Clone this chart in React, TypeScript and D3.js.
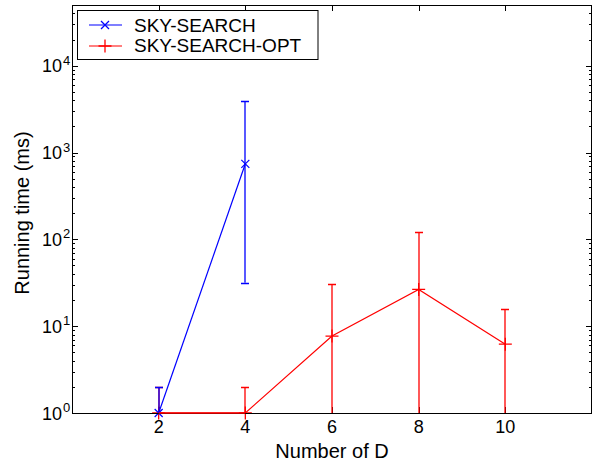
import * as d3 from "d3";
import { useEffect, useRef } from "react";

// x categories (number of dimensions)
const dims = [2, 4, 6, 8, 10];
const xTicks = [2, 4, 6, 8, 10];
const yTicks = [1, 10, 100, 1000, 10000];

// SKY-SEARCH (only two points measured)
const skyDims = [2, 4];
const skyMean = [1, 741];
const skyLow = [0.5, 31.8];
const skyHigh = [2, 3890];

// SKY-SEARCH-OPT
const optMean = [1, 1, 7.7, 26.5, 6.2];
const optLow = [0.5, 0.5, 0.5, 0.5, 0.5];
const optHigh = [2, 2, 31, 123, 15.8];

const seriesNames = ["SKY-SEARCH", "SKY-SEARCH-OPT"];
const seriesColors = ["#0000ff", "#ff0000"];

const W = 594,
  H = 462;
const FONT = "'Liberation Sans', Arial, Helvetica, sans-serif";

const App = () => {
  const svgRef = useRef<SVGSVGElement>(null);

  useEffect(() => {
    const svg = d3.select(svgRef.current);
    svg.selectAll("*").remove();

    const left = 72,
      right = 592,
      top = 5,
      bottom = 413;

    const x = d3.scaleLinear().domain([0, 12]).range([left, right]);
    const y = d3.scaleLog().domain([1, 50000]).range([bottom, top]).clamp(true);

    const g = svg.append("g");

    // minor + major ticks, left and right, inward
    const minor: number[] = [];
    for (let e = 0; e < 5; e++) {
      for (let k = 2; k <= 9; k++) {
        const v = k * Math.pow(10, e);
        if (v <= 50000) minor.push(v);
      }
    }
    let tickD = "";
    minor.forEach((v) => {
      const yy = Math.round(y(v)) + 0.5;
      tickD += `M${left},${yy}h3M${right},${yy}h-3`;
    });
    yTicks.forEach((v) => {
      const yy = Math.round(y(v)) + 0.5;
      tickD += `M${left},${yy}h6M${right},${yy}h-6`;
    });
    xTicks.forEach((v) => {
      const xx = Math.round(x(v)) + 0.5;
      tickD += `M${xx},${bottom}v-6M${xx},${top}v6`;
    });
    g.append("path").attr("d", tickD).attr("fill", "none").attr("stroke", "#000").attr("stroke-width", 1);

    // tick labels
    xTicks.forEach((v) => {
      g.append("text")
        .attr("x", x(v))
        .attr("y", 433)
        .attr("text-anchor", "middle")
        .attr("font-family", FONT)
        .attr("font-size", 18)
        .text(v);
    });
    yTicks.forEach((v) => {
      const yy = y(v);
      g.append("text")
        .attr("x", 62)
        .attr("y", yy + 6.5)
        .attr("text-anchor", "end")
        .attr("font-family", FONT)
        .attr("font-size", 18)
        .text("10");
      g.append("text")
        .attr("x", 63)
        .attr("y", yy - 1)
        .attr("font-family", FONT)
        .attr("font-size", 13)
        .text(Math.round(Math.log10(v)));
    });

    // axis titles
    g.append("text")
      .attr("x", (left + right) / 2)
      .attr("y", 457.5)
      .attr("text-anchor", "middle")
      .attr("font-family", FONT)
      .attr("font-size", 20)
      .text("Number of D");
    g.append("text")
      .attr("transform", `translate(29,${(top + bottom) / 2 + 4}) rotate(-90)`)
      .attr("text-anchor", "middle")
      .attr("font-family", FONT)
      .attr("font-size", 20)
      .text("Running time (ms)");

    const line = d3
      .line<[number, number]>()
      .x((d) => x(d[0]))
      .y((d) => y(d[1]));

    // error bars as one path per series; lower end clipped at the axis
    const drawErr = (xs: number[], lo: number[], hi: number[], color: string) => {
      let d = "";
      xs.forEach((xv, i) => {
        const xx = Math.round(x(xv));
        const y1 = y(Math.max(lo[i], 1));
        const y2 = Math.round(y(hi[i])) + 0.5;
        d += `M${xx},${y1}V${y2}M${xx - 4},${y2}H${xx + 4}`;
        if (lo[i] >= 1) {
          const yl = Math.round(y1) + 0.5;
          d += `M${xx - 4},${yl}H${xx + 4}`;
        }
      });
      g.append("path").attr("d", d).attr("fill", "none").attr("stroke", color).attr("stroke-width", 1.3);
    };

    // red first, blue above
    drawErr(dims, optLow, optHigh, seriesColors[1]);
    g.append("path")
      .datum(dims.map((d, i) => [d, optMean[i]] as [number, number]))
      .attr("d", line)
      .attr("fill", "none")
      .attr("stroke", seriesColors[1])
      .attr("stroke-width", 1.2);
    dims.forEach((d, i) => {
      const cx = x(d),
        cy = y(optMean[i]);
      g.append("path")
        .attr("d", `M${cx - 6.5},${cy}H${cx + 6.5}M${cx},${cy - 6.5}V${cy + 6.5}`)
        .attr("fill", "none")
        .attr("stroke", seriesColors[1])
        .attr("stroke-width", 1.3);
    });

    drawErr(skyDims, skyLow, skyHigh, seriesColors[0]);
    g.append("path")
      .datum(skyDims.map((d, i) => [d, skyMean[i]] as [number, number]))
      .attr("d", line)
      .attr("fill", "none")
      .attr("stroke", seriesColors[0])
      .attr("stroke-width", 1.2);
    skyDims.forEach((d, i) => {
      const cx = x(d),
        cy = y(skyMean[i]);
      g.append("path")
        .attr("d", `M${cx - 4},${cy - 4}L${cx + 4},${cy + 4}M${cx - 4},${cy + 4}L${cx + 4},${cy - 4}`)
        .attr("fill", "none")
        .attr("stroke", seriesColors[0])
        .attr("stroke-width", 1.2);
    });

    // axes box
    g.append("rect")
      .attr("x", left + 0.5)
      .attr("y", top + 0.5)
      .attr("width", right - left - 1)
      .attr("height", bottom - top)
      .attr("fill", "none")
      .attr("stroke", "#000")
      .attr("stroke-width", 1);
    // red segment along the bottom sits over the axis line
    g.append("path")
      .datum(dims.slice(0, 2).map((d, i) => [d, optMean[i]] as [number, number]))
      .attr("d", line)
      .attr("fill", "none")
      .attr("stroke", seriesColors[1])
      .attr("stroke-width", 1.5);

    // legend
    const lg = g.append("g");
    lg.append("rect")
      .attr("x", 77.5)
      .attr("y", 10.5)
      .attr("width", 240.5)
      .attr("height", 49)
      .attr("fill", "#fff")
      .attr("stroke", "#000")
      .attr("stroke-width", 1);
    seriesNames.forEach((name, i) => {
      const ly = i === 0 ? 25 : 46;
      const c = seriesColors[i];
      lg.append("path")
        .attr("d", `M89,${ly}H122`)
        .attr("fill", "none")
        .attr("stroke", c)
        .attr("stroke-width", 1.2);
      const mx = 105;
      lg.append("path")
        .attr(
          "d",
          i === 0
            ? `M${mx - 4},${ly - 4}L${mx + 4},${ly + 4}M${mx - 4},${ly + 4}L${mx + 4},${ly - 4}`
            : `M${mx - 6.5},${ly}H${mx + 6.5}M${mx},${ly - 6.5}V${ly + 6.5}`
        )
        .attr("fill", "none")
        .attr("stroke", c)
        .attr("stroke-width", 1.3);
      lg.append("text")
        .attr("x", 134)
        .attr("y", i === 0 ? 31.5 : 52)
        .attr("font-family", FONT)
        .attr("font-size", 19)
        .text(name);
    });
  }, []);

  return (
    <svg
      ref={svgRef}
      width={W}
      height={H}
      style={{ position: "absolute", left: 0, top: 0, background: "#fff" }}
    ></svg>
  );
};

export default App;
